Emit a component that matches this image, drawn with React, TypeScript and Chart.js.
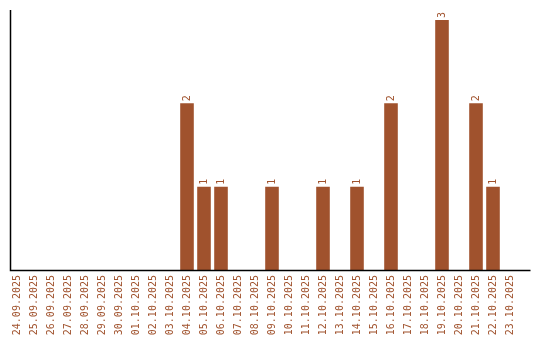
import React, { useEffect, useRef } from "react";
import { Chart, registerables } from "chart.js";

Chart.register(...registerables);

const categories = [
  "24.09.2025", "25.09.2025", "26.09.2025", "27.09.2025", "28.09.2025",
  "29.09.2025", "30.09.2025", "01.10.2025", "02.10.2025", "03.10.2025",
  "04.10.2025", "05.10.2025", "06.10.2025", "07.10.2025", "08.10.2025",
  "09.10.2025", "10.10.2025", "11.10.2025", "12.10.2025", "13.10.2025",
  "14.10.2025", "15.10.2025", "16.10.2025", "17.10.2025", "18.10.2025",
  "19.10.2025", "20.10.2025", "21.10.2025", "22.10.2025", "23.10.2025",
];

const counts = [
  0, 0, 0, 0, 0,
  0, 0, 0, 0, 0,
  2, 1, 1, 0, 0,
  1, 0, 0, 1, 0,
  1, 0, 2, 0, 0,
  3, 0, 2, 1, 0,
];

const BROWN = "#a0522d";
const FONT = "'DejaVu Sans Mono', monospace";

const valueLabels = {
  id: "valueLabels",
  afterDatasetsDraw(chart: any) {
    const ctx = chart.ctx;
    const meta = chart.getDatasetMeta(0);
    ctx.save();
    ctx.fillStyle = BROWN;
    ctx.font = `10px ${FONT}`;
    ctx.textAlign = "left";
    ctx.textBaseline = "middle";
    meta.data.forEach((bar: any, i: number) => {
      const v = counts[i];
      if (!v) return;
      ctx.save();
      ctx.translate(bar.x, bar.y - 2);
      ctx.rotate(-Math.PI / 2);
      ctx.fillText(String(v), 0, 0);
      ctx.restore();
    });
    ctx.restore();
  },
};

const axisLines = {
  id: "axisLines",
  afterDraw(chart: any) {
    const { ctx, chartArea } = chart;
    const x0 = Math.round(chartArea.left + 1.5) + 0.5;
    const yb = Math.round(chartArea.bottom) + 0.5;
    ctx.save();
    ctx.strokeStyle = "#000";
    ctx.lineWidth = 1.5;
    ctx.beginPath();
    ctx.moveTo(x0, chartArea.top);
    ctx.lineTo(x0, yb);
    ctx.lineTo(chartArea.right + 12, yb);
    ctx.stroke();
    ctx.restore();
  },
};

export default function App() {
  const ref = useRef<HTMLCanvasElement>(null);
  useEffect(() => {
    if (!ref.current) return;
    const chart = new Chart(ref.current, {
      type: "bar",
      data: {
        labels: categories,
        datasets: [
          {
            data: counts,
            backgroundColor: BROWN,
            borderWidth: 0,
            barPercentage: 0.8,
            categoryPercentage: 1,
          },
        ],
      },
      options: {
        animation: false,
        responsive: false,
        maintainAspectRatio: false,
        layout: { padding: { left: 8.5, top: 10, right: 21.5, bottom: 0 } },
        plugins: { legend: { display: false }, tooltip: { enabled: false } },
        scales: {
          x: {
            offset: true,
            grid: { display: false, drawTicks: false },
            border: { display: false },
            ticks: {
              autoSkip: false,
              minRotation: 90,
              maxRotation: 90,
              padding: 5,
              color: BROWN,
              font: { family: FONT, size: 10 },
            },
            afterFit(scale: any) {
              scale.height = 70;
            },
          },
          y: {
            min: 0,
            max: 3.12,
            grid: { display: false, drawTicks: false },
            border: { display: false },
            ticks: { display: false },
            afterFit(scale: any) {
              scale.width = 0;
            },
          },
        },
      },
      plugins: [valueLabels, axisLines],
    });
    return () => chart.destroy();
  }, []);
  return (
    <div style={{ position: "fixed", left: 0, top: 0, width: 540, height: 340, background: "#fff" }}>
      <canvas ref={ref} width={540} height={340} style={{ width: 540, height: 340 }} />
    </div>
  );
}
